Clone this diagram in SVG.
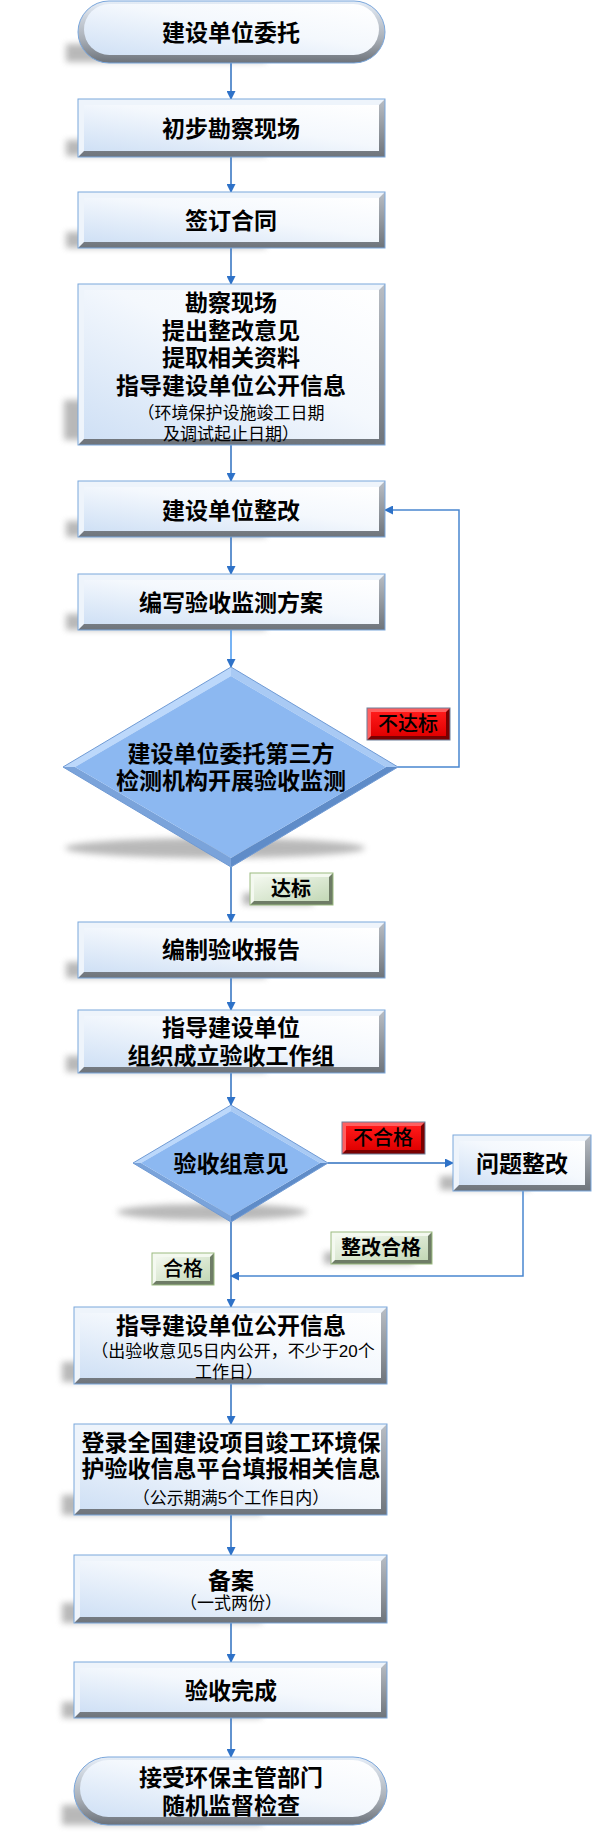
<svg xmlns="http://www.w3.org/2000/svg" width="600" height="1834" viewBox="0 0 600 1834">
<style>
.t{font-family:"Liberation Sans","Noto Sans CJK SC",sans-serif;font-size:23px;font-weight:bold;fill:#000;text-anchor:middle}
.s{font-family:"Liberation Sans","Noto Sans CJK SC",sans-serif;font-size:17px;fill:#000;text-anchor:middle}
.l{font-family:"Liberation Sans","Noto Sans CJK SC",sans-serif;font-size:20px;font-weight:500;fill:#000;text-anchor:middle}
.lb{font-family:"Liberation Sans","Noto Sans CJK SC",sans-serif;font-size:20px;font-weight:bold;fill:#000;text-anchor:middle}
.base{fill:url(#gBase)}
.hl{fill:#eef4fb}
.face{fill:url(#gFace)}
.ol{fill:none;stroke:#7ba7dc;stroke-width:1}
.sh{fill:#8a8a8a;opacity:.6;filter:url(#blur)}
.c{fill:none;stroke:#2e6fbf;stroke-width:1.5}
.ca{fill:none;stroke:#2e6fbf;stroke-width:1.5;marker-end:url(#ah)}
.rbase{fill:#7a0000}
.rhl{fill:#ff6060}
.rface{fill:url(#gRed)}
.gbase{fill:#6e7c66}
.ghl{fill:#f4f9f0}
.gface{fill:url(#gGreen)}
.lol{fill:none;stroke:#6d7f99;stroke-width:1}
.gol{fill:none;stroke:#9bbb80;stroke-width:1}
</style>
<defs>
<filter id="blur" x="-20%" y="-100%" width="140%" height="300%"><feGaussianBlur stdDeviation="3"/></filter>
<linearGradient id="gBase" x1="0" y1="0" x2="0" y2="1"><stop offset="0" stop-color="#b9bec5"/><stop offset="1" stop-color="#6e747b"/></linearGradient>
<linearGradient id="gFace" x1="0" y1="1" x2="1" y2="0"><stop offset="0" stop-color="#cfe0f5"/><stop offset="0.55" stop-color="#f4f8fd"/><stop offset="1" stop-color="#ffffff"/></linearGradient>
<linearGradient id="gTerm" x1="0" y1="0" x2="0" y2="1"><stop offset="0" stop-color="#e6eef8"/><stop offset="0.6" stop-color="#aab0b8"/><stop offset="1" stop-color="#6c727a"/></linearGradient>
<linearGradient id="gRed" x1="0" y1="0" x2="0" y2="1"><stop offset="0" stop-color="#ff1a1a"/><stop offset="1" stop-color="#e00000"/></linearGradient>
<linearGradient id="gGreen" x1="0" y1="0" x2="1" y2="1"><stop offset="0" stop-color="#f3f8ef"/><stop offset="1" stop-color="#c3d8b6"/></linearGradient>
<marker id="ah" markerUnits="userSpaceOnUse" markerWidth="9" markerHeight="9" refX="8" refY="4.5" orient="auto"><path d="M0,0 L9,4.5 L0,9 Z" fill="#2e72c8"/></marker>
</defs>

<g id="shadows">
<rect class="sh" x="66" y="44" width="200" height="18"/>
<rect class="sh" x="66" y="140" width="200" height="16"/>
<rect class="sh" x="66" y="232" width="200" height="16"/>
<rect class="sh" x="64" y="400" width="200" height="40"/>
<rect class="sh" x="66" y="521" width="200" height="16"/>
<rect class="sh" x="66" y="614" width="200" height="16"/>
<rect class="sh" x="66" y="962" width="200" height="16"/>
<rect class="sh" x="66" y="1056" width="200" height="16"/>
<rect class="sh" x="440" y="1176" width="90" height="14"/>
<rect class="sh" x="62" y="1362" width="200" height="20"/>
<rect class="sh" x="62" y="1495" width="200" height="20"/>
<rect class="sh" x="62" y="1603" width="200" height="20"/>
<rect class="sh" x="62" y="1702" width="200" height="16"/>
<rect class="sh" x="62" y="1805" width="200" height="20"/>
<ellipse class="sh" cx="215" cy="848" rx="150" ry="10"/>
<ellipse class="sh" cx="212" cy="1212" rx="95" ry="8"/>
<rect class="sh" x="243" y="893" width="70" height="12"/>
<rect class="sh" x="324" y="1252" width="90" height="12"/>
</g>

<g id="connectors">
<line class="ca" x1="231" y1="63" x2="231" y2="99"/>
<line class="ca" x1="231" y1="157" x2="231" y2="192"/>
<line class="ca" x1="231" y1="248" x2="231" y2="284"/>
<line class="ca" x1="231" y1="445" x2="231" y2="481"/>
<line class="ca" x1="231" y1="537" x2="231" y2="574"/>
<line class="ca" x1="231" y1="630" x2="231" y2="667" style="stroke:#4a9af0"/>
<line class="ca" x1="231" y1="867" x2="231" y2="922"/>
<line class="ca" x1="231" y1="978" x2="231" y2="1010"/>
<line class="ca" x1="231" y1="1073" x2="231" y2="1105"/>
<line class="ca" x1="231" y1="1222" x2="231" y2="1307"/>
<line class="ca" x1="231" y1="1384" x2="231" y2="1424"/>
<line class="ca" x1="231" y1="1515" x2="231" y2="1555"/>
<line class="ca" x1="231" y1="1623" x2="231" y2="1662"/>
<line class="ca" x1="231" y1="1718" x2="231" y2="1757"/>
<polyline class="ca" points="398,767 459,767 459,510 385,510" style="stroke:#4a86cf"/>
<line class="ca" x1="328" y1="1163" x2="453" y2="1163"/>
<polyline class="ca" points="523,1191 523,1276 231,1276" style="stroke:#4a86cf"/>
</g>

<g id="n-start">
<rect x="78" y="1" width="307" height="62" rx="31" fill="url(#gTerm)"/>
<rect class="face" x="84" y="4" width="295" height="51" rx="25.5"/>
<rect class="ol" x="78" y="1" width="307" height="62" rx="31"/>
<text class="t" x="231" y="40.5">建设单位委托</text>
</g>

<g id="n-survey">
<rect class="base" x="78" y="99" width="307" height="58"/>
<polygon class="hl" points="78,99 385,99 379,105 84,105 84,151 78,157"/>
<rect class="face" x="84" y="105" width="295" height="46"/>
<rect class="ol" x="78" y="99" width="307" height="58"/>
<text class="t" x="231" y="136.5">初步勘察现场</text>
</g>

<g id="n-contract">
<rect class="base" x="78" y="192" width="307" height="56"/>
<polygon class="hl" points="78,192 385,192 379,198 84,198 84,242 78,248"/>
<rect class="face" x="84" y="198" width="295" height="44"/>
<rect class="ol" x="78" y="192" width="307" height="56"/>
<text class="t" x="231" y="228.5">签订合同</text>
</g>

<g id="n-inspect">
<rect class="base" x="78" y="284" width="307" height="161"/>
<polygon class="hl" points="78,284 385,284 379,290 84,290 84,439 78,445"/>
<rect class="face" x="84" y="290" width="295" height="149"/>
<rect class="ol" x="78" y="284" width="307" height="161"/>
<text class="t" x="231" y="310.5">勘察现场</text>
<text class="t" x="231" y="338.5">提出整改意见</text>
<text class="t" x="231" y="365.5">提取相关资料</text>
<text class="t" x="231" y="393.5">指导建设单位公开信息</text>
<text class="s" x="231" y="418.5">（环境保护设施竣工日期</text>
<text class="s" x="231" y="439.5">及调试起止日期）</text>
</g>

<g id="n-rectify">
<rect class="base" x="78" y="481" width="307" height="56"/>
<polygon class="hl" points="78,481 385,481 379,487 84,487 84,531 78,537"/>
<rect class="face" x="84" y="487" width="295" height="44"/>
<rect class="ol" x="78" y="481" width="307" height="56"/>
<text class="t" x="231" y="518.5">建设单位整改</text>
</g>

<g id="n-plan">
<rect class="base" x="78" y="574" width="307" height="56"/>
<polygon class="hl" points="78,574 385,574 379,580 84,580 84,624 78,630"/>
<rect class="face" x="84" y="580" width="295" height="44"/>
<rect class="ol" x="78" y="574" width="307" height="56"/>
<text class="t" x="231" y="610.5">编写验收监测方案</text>
</g>

<g id="n-monitor">
<polygon points="63,767 231,667 231,676 75,767" fill="#bcd8fb"/>
<polygon points="231,667 398,767 386,767 231,676" fill="#a9caf4"/>
<polygon points="398,767 231,867 231,858 386,767" fill="#5f8cc8"/>
<polygon points="231,867 63,767 75,767 231,858" fill="#7aa3da"/>
<polygon points="231,676 386,767 231,858 75,767" fill="#8cb8f1"/>
<polygon points="231,667 398,767 231,867 63,767" fill="none" stroke="#6f9ad4" stroke-width="1"/>
<text class="t" x="231" y="761.5">建设单位委托第三方</text>
<text class="t" x="231" y="788.5">检测机构开展验收监测</text>
</g>

<g id="lbl-fail1">
<rect class="rbase" x="367" y="708" width="83" height="32"/>
<polygon class="rhl" points="367,708 450,708 446,712 371,712 371,736 367,740"/>
<rect class="rface" x="371" y="712" width="75" height="24"/>
<rect class="lol" x="367" y="708" width="83" height="32"/>
<text class="l" x="408" y="731">不达标</text>
</g>

<g id="lbl-pass1">
<rect class="gbase" x="250" y="873" width="83" height="32"/>
<polygon class="ghl" points="250,873 333,873 329,877 254,877 254,901 250,905"/>
<rect class="gface" x="254" y="877" width="75" height="24"/>
<rect class="gol" x="250" y="873" width="83" height="32"/>
<text class="lb" x="291" y="896">达标</text>
</g>

<g id="n-report">
<rect class="base" x="78" y="922" width="307" height="56"/>
<polygon class="hl" points="78,922 385,922 379,928 84,928 84,972 78,978"/>
<rect class="face" x="84" y="928" width="295" height="44"/>
<rect class="ol" x="78" y="922" width="307" height="56"/>
<text class="t" x="231" y="957.5">编制验收报告</text>
</g>

<g id="n-group">
<rect class="base" x="78" y="1010" width="307" height="63"/>
<polygon class="hl" points="78,1010 385,1010 379,1016 84,1016 84,1067 78,1073"/>
<rect class="face" x="84" y="1016" width="295" height="51"/>
<rect class="ol" x="78" y="1010" width="307" height="63"/>
<text class="t" x="231" y="1035.5">指导建设单位</text>
<text class="t" x="231" y="1063.5">组织成立验收工作组</text>
</g>

<g id="n-opinion">
<polygon points="133,1163 231,1105 231,1111 141,1163" fill="#bcd8fb"/>
<polygon points="231,1105 328,1163 320,1163 231,1111" fill="#a9caf4"/>
<polygon points="328,1163 231,1222 231,1216 320,1163" fill="#5f8cc8"/>
<polygon points="231,1222 133,1163 141,1163 231,1216" fill="#7aa3da"/>
<polygon points="231,1111 320,1163 231,1216 141,1163" fill="#8cb8f1"/>
<polygon points="231,1105 328,1163 231,1222 133,1163" fill="none" stroke="#6f9ad4" stroke-width="1"/>
<text class="t" x="231" y="1171.5">验收组意见</text>
</g>

<g id="lbl-fail2">
<rect class="rbase" x="342" y="1122" width="83" height="32"/>
<polygon class="rhl" points="342,1122 425,1122 421,1126 346,1126 346,1150 342,1154"/>
<rect class="rface" x="346" y="1126" width="75" height="24"/>
<rect class="lol" x="342" y="1122" width="83" height="32"/>
<text class="l" x="383" y="1145">不合格</text>
</g>

<g id="n-fix">
<rect class="base" x="453" y="1135" width="138" height="56"/>
<polygon class="hl" points="453,1135 591,1135 585,1141 459,1141 459,1185 453,1191"/>
<rect class="face" x="459" y="1141" width="126" height="44"/>
<rect class="ol" x="453" y="1135" width="138" height="56"/>
<text class="t" x="522" y="1171.5">问题整改</text>
</g>

<g id="lbl-fixed">
<rect class="gbase" x="331" y="1232" width="101" height="32"/>
<polygon class="ghl" points="331,1232 432,1232 428,1236 335,1236 335,1260 331,1264"/>
<rect class="gface" x="335" y="1236" width="93" height="24"/>
<rect class="gol" x="331" y="1232" width="101" height="32"/>
<text class="lb" x="381" y="1255">整改合格</text>
</g>

<g id="lbl-pass2">
<rect class="gbase" x="152" y="1253" width="62" height="32"/>
<polygon class="ghl" points="152,1253 214,1253 210,1257 156,1257 156,1281 152,1285"/>
<rect class="gface" x="156" y="1257" width="54" height="24"/>
<rect class="gol" x="152" y="1253" width="62" height="32"/>
<text class="l" x="183" y="1276">合格</text>
</g>

<g id="n-publish">
<rect class="base" x="74" y="1307" width="313" height="77"/>
<polygon class="hl" points="74,1307 387,1307 381,1313 80,1313 80,1378 74,1384"/>
<rect class="face" x="80" y="1313" width="301" height="65"/>
<rect class="ol" x="74" y="1307" width="313" height="77"/>
<text class="t" x="231" y="1333.5">指导建设单位公开信息</text>
<text class="s" x="233" y="1356.5">（出验收意见5日内公开，不少于20个</text>
<text class="s" x="229" y="1377.5">工作日）</text>
</g>

<g id="n-register">
<rect class="base" x="74" y="1424" width="313" height="91"/>
<polygon class="hl" points="74,1424 387,1424 381,1430 80,1430 80,1509 74,1515"/>
<rect class="face" x="80" y="1430" width="301" height="79"/>
<rect class="ol" x="74" y="1424" width="313" height="91"/>
<text class="t" x="231" y="1450.5">登录全国建设项目竣工环境保</text>
<text class="t" x="231" y="1476.5">护验收信息平台填报相关信息</text>
<text class="s" x="231" y="1503.5">（公示期满5个工作日内）</text>
</g>

<g id="n-file">
<rect class="base" x="74" y="1555" width="313" height="68"/>
<polygon class="hl" points="74,1555 387,1555 381,1561 80,1561 80,1617 74,1623"/>
<rect class="face" x="80" y="1561" width="301" height="56"/>
<rect class="ol" x="74" y="1555" width="313" height="68"/>
<text class="t" x="231" y="1588.5">备案</text>
<text class="s" x="231" y="1608.5">（一式两份）</text>
</g>

<g id="n-done">
<rect class="base" x="74" y="1662" width="313" height="56"/>
<polygon class="hl" points="74,1662 387,1662 381,1668 80,1668 80,1712 74,1718"/>
<rect class="face" x="80" y="1668" width="301" height="44"/>
<rect class="ol" x="74" y="1662" width="313" height="56"/>
<text class="t" x="231" y="1698.5">验收完成</text>
</g>

<g id="n-end">
<rect x="74" y="1757" width="313" height="68" rx="34" fill="url(#gTerm)"/>
<rect class="face" x="80" y="1760" width="301" height="57" rx="28.5"/>
<rect class="ol" x="74" y="1757" width="313" height="68" rx="34"/>
<text class="t" x="231" y="1785.5">接受环保主管部门</text>
<text class="t" x="231" y="1813.5">随机监督检查</text>
</g>
</svg>
